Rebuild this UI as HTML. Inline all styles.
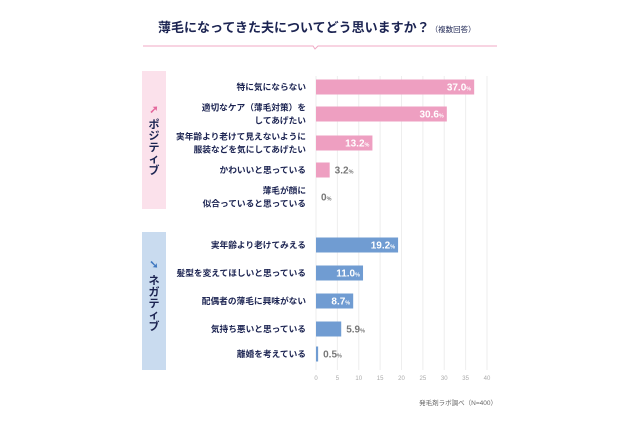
<!DOCTYPE html>
<html><head><meta charset="utf-8"><style>
body{margin:0;background:#fff;}
svg text{font-family:"Liberation Sans","Noto Sans CJK JP",sans-serif;}
</style></head><body>
<svg width="640" height="427" viewBox="0 0 640 427">
<text x="158" y="32" font-size="13" font-weight="bold" fill="#1c2452">薄毛になってきた夫についてどう思いますか？<tspan font-size="7.5" font-weight="normal" dx="1">（複数回答）</tspan></text>
<path d="M143 46 H313 L315 49 L318 46 H497" stroke="#f0a9c4" stroke-width="1" fill="none"/>
<rect x="142" y="71" width="24" height="138" fill="#fbe1eb"/>
<text x="154" y="113" text-anchor="middle" font-size="11" font-weight="bold" fill="#e4679c">➚</text>
<g id="posLabel"></g>
<rect x="142" y="232" width="24" height="138" fill="#c9dbef"/>
<text x="154" y="268" text-anchor="middle" font-size="11" font-weight="bold" fill="#3f78c0">➘</text>
<g id="negLabel"></g>
<g id="grid"></g><g id="bars"></g><g id="axis"></g>
<text x="497" y="405" text-anchor="end" font-size="6.5" fill="#666">発毛剤ラボ調べ（N=400）</text>
</svg>
<script>
const categories=[["特に気にならない"],["適切なケア（薄毛対策）を","してあげたい"],["実年齢より老けて見えないように","服装などを気にしてあげたい"],["かわいいと思っている"],["薄毛が顔に","似合っていると思っている"],["実年齢より老けてみえる"],["髪型を変えてほしいと思っている"],["配偶者の薄毛に興味がない"],["気持ち悪いと思っている"],["離婚を考えている"]];
const values=[37.0,30.6,13.2,3.2,0,19.2,11.0,8.7,5.9,0.5];
const labels=["37.0","30.6","13.2","3.2","0","19.2","11.0","8.7","5.9","0.5"];
const groups=["pos","pos","pos","pos","pos","neg","neg","neg","neg","neg"];
const ticks=[0,5,10,15,20,25,30,35,40];
const rowY=[87,114,143,170,197,245,273,301,329,354];
const ns="http://www.w3.org/2000/svg";
const xs=v=>316+v*(171/40);
function mk(t,a,p){const e=document.createElementNS(ns,t);for(const k in a)e.setAttribute(k,a[k]);p.appendChild(e);return e;}
function vert(id,str,y0){const g=document.getElementById(id);[...str].forEach((c,i)=>{const t=mk('text',{x:154,y:y0+i*11.5,'text-anchor':'middle','font-size':11,'font-weight':'bold',fill:'#1c2452'},g);t.textContent=c;});}
vert('posLabel','ポジティブ',128);
vert('negLabel','ネガティブ',284);
const G=document.getElementById('grid'),B=document.getElementById('bars'),A=document.getElementById('axis');
ticks.forEach(t=>{
 const l=mk('line',{x1:xs(t),x2:xs(t),y1:76,y2:370,stroke:'#eeeeee','stroke-width':1},G);
 
 
 const tx=mk('text',{x:xs(t),y:380,'text-anchor':'middle','font-size':6,fill:'#aaa'},A);tx.textContent=t;
 
 
});
values.forEach((v,i)=>{
 const y=rowY[i],col=groups[i]=='pos'?'#ee9fc1':'#709cd2';
 if(v>0){const r=mk('rect',{x:316,y:y-7.5,width:xs(v)-316,height:15,fill:col},B);
 
 }
 const lines=categories[i];
 lines.forEach((s,j)=>{const t=mk('text',{x:306,y:y+3+(j-(lines.length-1)/2)*13,'text-anchor':'end','font-size':8.7,'font-weight':'bold',fill:'#1c2452'},B);t.textContent=s;
 
 });
 const inside=xs(v)-316>30;
 const t=mk('text',{x:inside?xs(v)-3:xs(v)+5,y:y+3.5,'text-anchor':inside?'end':'start','font-size':10,'font-weight':'bold',fill:inside?'#fff':'#777'},B);
 
 
 t.textContent=labels[i];
 const p=mk('tspan',{'font-size':5.5},t);p.textContent='%';
});
</script>
</body></html>
